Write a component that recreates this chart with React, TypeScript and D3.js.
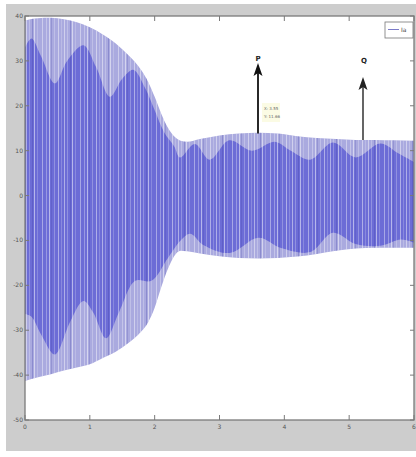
import React from "react";
import * as d3 from "d3";

// ---------- data ----------
const X_TICKS = [0, 1, 2, 3, 4, 5, 6];
const Y_TICKS = [40, 30, 20, 10, 0, -10, -20, -30, -40, -50];

// outer envelope of the oscillation
const T_OUTER = [0, 0.2, 0.4, 0.6, 0.8, 1.0, 1.2, 1.4, 1.6, 1.8, 1.9, 2.0, 2.1, 2.2, 2.3, 2.4, 2.5, 2.7, 3.0, 3.3, 3.6, 3.9, 4.2, 4.5, 4.8, 5.1, 5.4, 5.7, 6.0];
const OUTER_TOP = [39.0, 39.5, 39.6, 39.3, 38.6, 37.5, 35.9, 33.9, 31.2, 27.8, 25.3, 22.0, 18.3, 15.2, 13.2, 12.2, 12.0, 12.6, 13.4, 13.8, 14.0, 13.8, 13.2, 12.8, 12.6, 12.4, 12.4, 12.3, 12.2];
const OUTER_BOT = [-41.3, -40.5, -39.8, -39.0, -38.3, -37.6, -36.2, -34.8, -32.8, -30.2, -28.2, -25.0, -20.5, -16.5, -13.5, -12.3, -12.4, -12.9, -13.5, -13.9, -14.0, -13.9, -13.6, -13.0, -12.3, -11.8, -11.6, -11.6, -11.6];

// dense (dark) part of the band
const T_DARK_TOP = [0, 0.1, 0.25, 0.46, 0.65, 0.9, 1.1, 1.31, 1.5, 1.67, 1.85, 2.0, 2.15, 2.3, 2.39, 2.62, 2.85, 3.15, 3.5, 3.85, 4.1, 4.4, 4.75, 5.1, 5.48, 5.75, 6.0];
const DARK_TOP = [33, 35, 31, 25, 30, 33.5, 28.5, 22, 26, 28, 24, 19, 14, 11, 8.5, 11.5, 8, 12.3, 10, 12, 10, 8, 11.8, 8.5, 11.6, 9.5, 7.5];
const T_DARK_BOT = [0, 0.1, 0.25, 0.46, 0.7, 0.9, 1.05, 1.25, 1.45, 1.7, 1.95, 2.2, 2.4, 2.55, 2.75, 3.16, 3.6, 3.95, 4.4, 4.75, 5.1, 5.48, 5.8, 6.0];
const DARK_BOT = [-26.4, -27, -31, -35.4, -28, -23.5, -26, -31.8, -26, -19, -19, -14, -10, -8.5, -11, -12.8, -9.4, -11.7, -12.6, -8.3, -10.8, -11.2, -9.8, -10.5];

const STRIPES = [1, 4, 9, 12, 17, 21, 24, 29, 33, 36];
const STRIPE_ALPHA = [0.45, 0.25, 0.5, 0.2, 0.4, 0.3, 0.5, 0.25, 0.45, 0.2];

export default function App() {
  const W = 416, H = 457;
  const L = 25, R = 414, T = 16, B = 420;
  const x = d3.scaleLinear().domain([0, 6]).range([L, R]);
  const y = d3.scaleLinear().domain([40, -50]).range([T, B]);

  const outerArea = d3
    .area<number>()
    .x((_, i) => x(T_OUTER[i]))
    .y0((_, i) => y(OUTER_BOT[i]))
    .y1((_, i) => y(OUTER_TOP[i]))
    .curve(d3.curveMonotoneX)(OUTER_TOP) as string;

  const line = d3.line<[number, number]>().x((d) => x(d[0])).y((d) => y(d[1])).curve(d3.curveCatmullRom.alpha(0.5));
  const topPts: [number, number][] = T_DARK_TOP.map((t, i) => [t, DARK_TOP[i]]);
  const botPts: [number, number][] = T_DARK_BOT.map((t, i) => [t, DARK_BOT[i]]).reverse() as [number, number][];
  const darkPath = (line(topPts) as string) + "L" + (line(botPts) as string).slice(1) + "Z";

  const font = "'DejaVu Sans', sans-serif";

  return (
    <svg width={W} height={H} style={{ position: "absolute", left: 0, top: 0 }}>
      <defs>
        <pattern id="stripes" width={38} height={10} patternUnits="userSpaceOnUse" x={L}>
          {STRIPES.map((s, i) => (
            <rect key={i} x={s} y={0} width={1} height={10} fill="#ffffff" opacity={STRIPE_ALPHA[i]} />
          ))}
          <rect x={7} y={0} width={0.8} height={10} fill="#3a3aa0" opacity={0.35} />
          <rect x={26} y={0} width={0.8} height={10} fill="#3a3aa0" opacity={0.25} />
        </pattern>
        <clipPath id="plotClip">
          <rect x={L} y={T} width={R - L} height={B - T} />
        </clipPath>
        <clipPath id="bandClip">
          <path d={outerArea} />
        </clipPath>
        <filter id="soft" x="-5%" y="-5%" width="110%" height="110%">
          <feGaussianBlur stdDeviation={0.5} />
        </filter>
      </defs>
      <rect x={0} y={0} width={W} height={H} fill="#ffffff" />
      <rect x={6} y={4} width={410} height={447} fill="#cdcdcd" />
      <rect x={L} y={T} width={R - L} height={B - T} fill="#ffffff" />

      <g clipPath="url(#plotClip)">
        <g filter="url(#soft)">
          <path d={outerArea} fill="#aaaadf" />
          <g clipPath="url(#bandClip)">
            <path d={darkPath} fill="#6c6cd6" />
          </g>
          <path d={outerArea} fill="url(#stripes)" />
        </g>
      </g>

      {/* axes box */}
      <rect x={L} y={T} width={R - L} height={B - T} fill="none" stroke="#7a7a7a" strokeWidth={1.3} />
      {X_TICKS.map((v) => (
        <g key={"x" + v}>
          <line x1={x(v)} x2={x(v)} y1={B} y2={B - 5} stroke="#7a7a7a" />
          <line x1={x(v)} x2={x(v)} y1={T} y2={T + 5} stroke="#7a7a7a" />
          <text x={x(v)} y={B + 9} fontSize={6} fontFamily={font} fill="#555" textAnchor="middle">
            {v}
          </text>
        </g>
      ))}
      {Y_TICKS.map((v) => (
        <g key={"y" + v}>
          <line x1={L} x2={L + 4} y1={y(v)} y2={y(v)} stroke="#7a7a7a" />
          <line x1={R} x2={R - 4} y1={y(v)} y2={y(v)} stroke="#7a7a7a" />
          <text x={L - 2} y={y(v) + 2} fontSize={6} fontFamily={font} fill="#555" textAnchor="end">
            {v}
          </text>
        </g>
      ))}

      {/* legend */}
      <rect x={385} y={22} width={28} height={16} fill="#ffffff" stroke="#777" strokeWidth={0.8} />
      <line x1={388} x2={399} y1={29.5} y2={29.5} stroke="#7b7bc8" strokeWidth={1} />
      <text x={401} y={32} fontSize={6} fontFamily={font} fill="#444">Ia</text>

      {/* annotations */}
      <line x1={258} x2={258} y1={y(13.8)} y2={72} stroke="#111" strokeWidth={1.8} />
      <path d="M258,63 L253.5,76 L258,73 L262.5,76 Z" fill="#111" />
      <text x={258} y={61} fontSize={7} fontWeight="bold" fontFamily={font} fill="#222" textAnchor="middle">P</text>

      <line x1={363} x2={363} y1={y(12.4)} y2={86} stroke="#555" strokeWidth={1.8} />
      <path d="M363,77 L358.5,90 L363,87 L367.5,90 Z" fill="#222" />
      <text x={364} y={63} fontSize={7} fontWeight="bold" fontFamily={font} fill="#222" textAnchor="middle">Q</text>

      <rect x={262} y={103} width={18} height={19} fill="#fbfbe4" />
      <text x={264} y={110} fontSize={4} fontFamily={font} fill="#666">X: 3.55</text>
      <text x={264} y={118} fontSize={4} fontFamily={font} fill="#666">Y: 11.66</text>
    </svg>
  );
}
